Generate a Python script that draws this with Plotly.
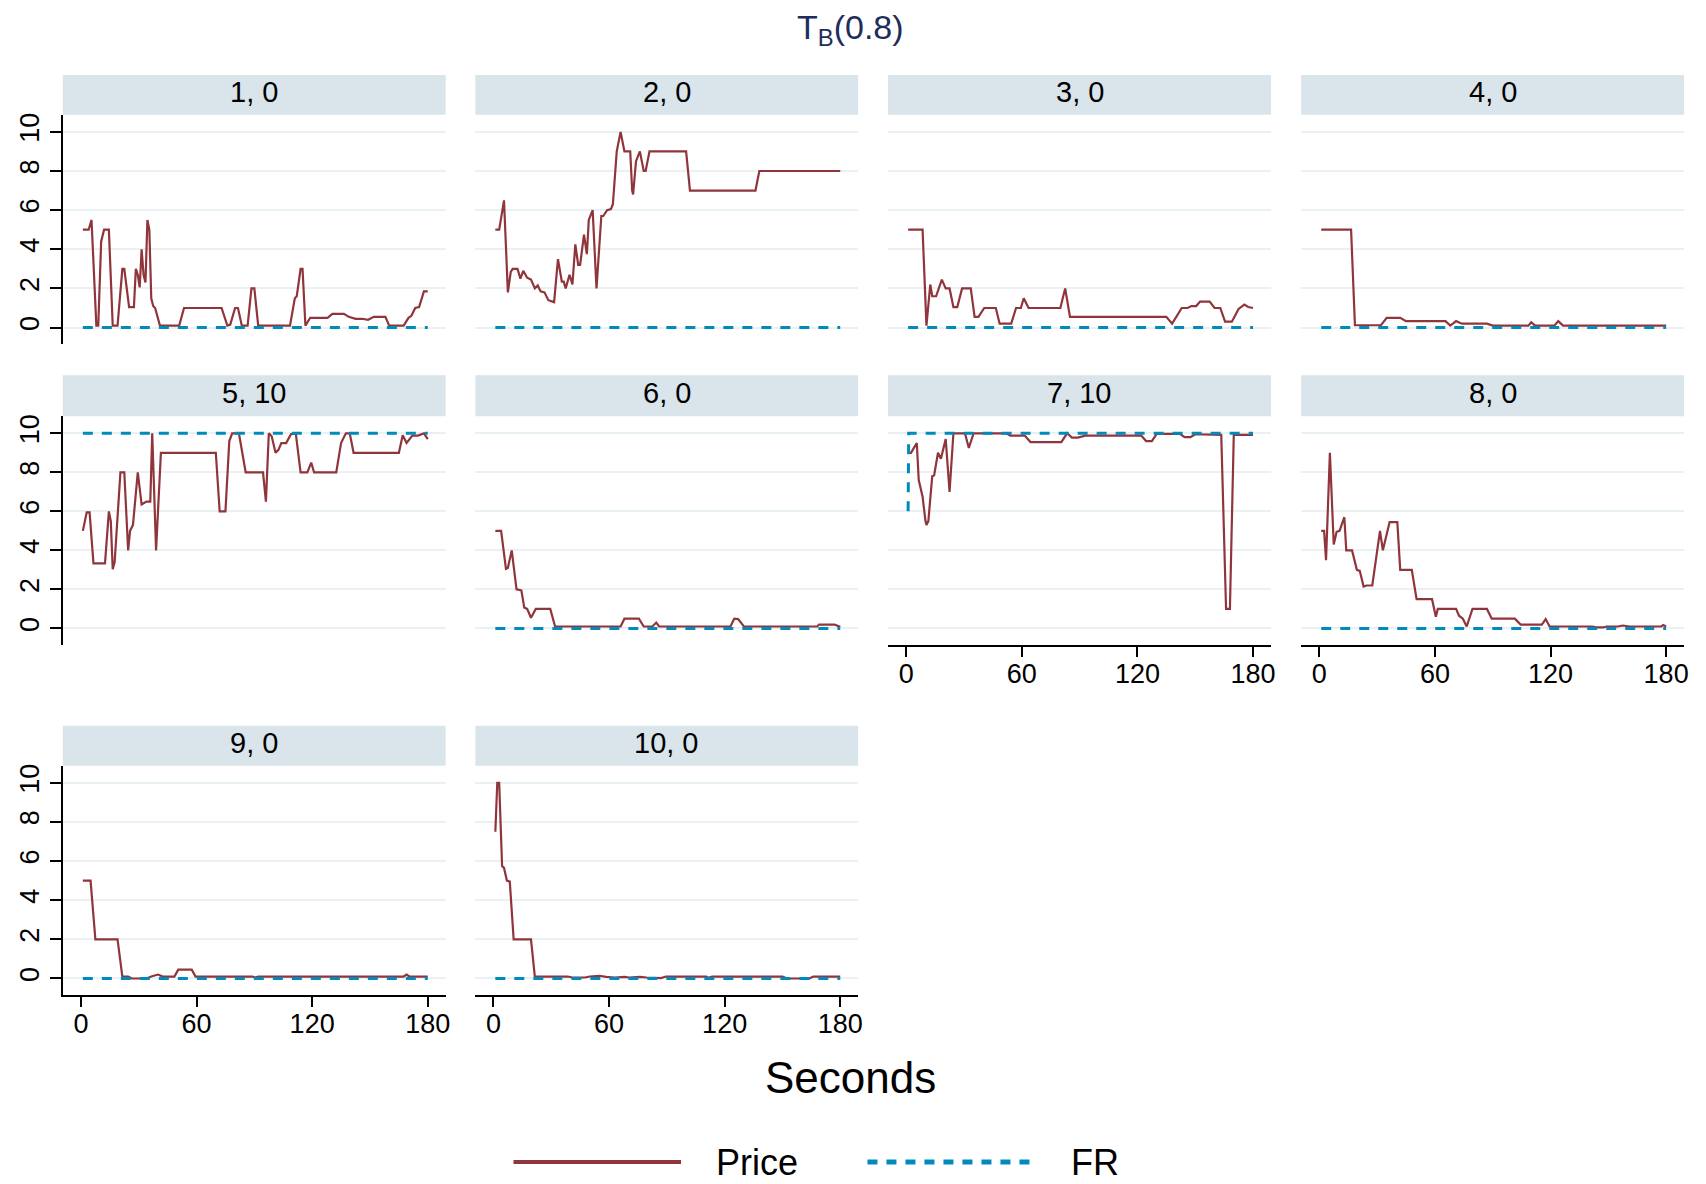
import plotly.graph_objects as go

# ---- data: price path per session (seconds, price), plus the FR level ----
session_labels = ["1, 0", "2, 0", "3, 0", "4, 0", "5, 10", "6, 0", "7, 10", "8, 0", "9, 0", "10, 0"]

s1_t = [1, 4, 5.5, 8, 9, 10.5, 12, 14.5, 16.5, 19, 21.5, 22.5, 25, 27.5, 28.5, 29.5, 30.5, 31.5, 32.5, 33.5,
        34.5, 35.5, 36.5, 37.5, 38.5, 41, 51, 53.5, 73, 76, 77.5, 80, 81.5, 83.5, 86.5, 88.5, 90, 92, 108.5,
        111, 112, 114, 115, 116.5, 119, 128, 130.5, 136.5, 139, 142.5, 146, 149, 152, 158, 160, 167.5, 170,
        171.5, 173.5, 175.5, 178, 180]
s1_price = [5.0, 5.0, 5.5, 0.1, 0.1, 4.4, 5.0, 5.0, 0.1, 0.1, 3.0, 3.0, 1.05, 1.05, 3.0, 2.7, 2.05, 4.0, 2.7, 2.3,
            5.5, 5.0, 1.5, 1.1, 1.0, 0.1, 0.1, 1.0, 1.0, 0.1, 0.15, 1.0, 1.0, 0.1, 0.1, 2.0, 2.0, 0.1, 0.1,
            1.5, 1.6, 3.0, 3.0, 0.1, 0.5, 0.5, 0.7, 0.7, 0.55, 0.45, 0.45, 0.4, 0.55, 0.55, 0.1, 0.1, 0.5,
            0.6, 1.0, 1.05, 1.85, 1.85]

s2_t = [1, 3, 5.5, 7.5, 9, 10, 12.5, 14, 15.5, 17.5, 19.5, 21.5, 23, 24.5, 26.5, 28.5, 31.5, 33.5, 35.5, 36.5,
        37.5, 39.5, 41, 42.5, 44, 45, 47, 48.5, 49.5, 51.5, 53.5, 56, 57, 59, 61, 62, 64, 66, 68, 71, 72,
        72.5, 74, 76, 78, 79, 81, 100, 102, 136, 138, 180]
s2_price = [5.0, 5.0, 6.5, 1.8, 2.85, 3.0, 3.0, 2.5, 2.9, 2.55, 2.45, 2.0, 2.15, 1.85, 1.8, 1.4, 1.3, 3.5, 2.35, 2.35,
            2.0, 2.7, 2.2, 4.25, 3.2, 3.2, 4.75, 3.75, 5.5, 6.0, 2.0, 5.7, 5.7, 6.0, 6.05, 6.3, 9.0, 10.0, 9.0, 9.0, 7.0,
            6.8, 8.5, 9.0, 8.0, 8.0, 9.0, 9.0, 7.0, 7.0, 8.0, 8.0]

s3_t = [1, 8.5, 10.5, 12.5, 13.5, 15.5, 18.5, 20.5, 22.5, 24.5, 26.5, 29, 33.5, 35.5, 37.5, 40.5, 46.5, 48.5, 54.5,
        57, 59.5, 61, 63.5, 80, 82.5, 85, 135, 138, 143, 146, 148, 150.5, 152.5, 157.5, 160, 163, 165.5, 169,
        172.5, 175.5, 177.5, 180]
s3_price = [5.0, 5.0, 0.1, 2.2, 1.6, 1.6, 2.45, 2.0, 2.0, 1.05, 1.05, 2.0, 2.0, 0.55, 0.55, 1.0, 1.0, 0.2, 0.2,
            1.0, 1.0, 1.5, 1.0, 1.0, 2.0, 0.55, 0.55, 0.2, 1.0, 1.0, 1.1, 1.1, 1.33, 1.33, 1.0, 1.0, 0.3, 0.3,
            0.95, 1.17, 1.05, 1.0]

s4_t = [1, 16.5, 18.5, 32, 35, 42, 45, 65.5, 68, 71, 74, 87, 90, 108.5, 110, 112, 122, 124, 126.5, 180]
s4_price = [5.0, 5.0, 0.12, 0.12, 0.5, 0.5, 0.33, 0.33, 0.1, 0.33, 0.2, 0.2, 0.1, 0.1, 0.27, 0.1, 0.1, 0.33, 0.1, 0.1]

s5_t = [1, 3, 4.5, 6.5, 12.5, 14.5, 15.5, 16.5, 17.5, 20.5, 22.5, 24.5, 25.5, 27, 29.5, 31.5, 34, 36, 37, 39,
        41.5, 70, 72, 75, 77, 78.5, 82, 85.5, 94.5, 96, 97.5, 99, 101, 102.5, 104, 106.5, 109, 111.5, 114,
        117.5, 119.5, 121, 132.5, 135, 137.5, 139.5, 141.5, 165, 167, 169, 172, 175, 178, 180]
s5_price = [5.0, 5.95, 5.95, 3.33, 3.33, 6.0, 5.5, 3.03, 3.4, 8.0, 8.0, 4.0, 5.0, 5.3, 8.0, 6.35, 6.5, 6.5, 10.0, 4.0,
            9.0, 9.0, 6.0, 6.0, 9.6, 10.0, 10.0, 8.0, 8.0, 6.5, 10.0, 9.85, 9.0, 9.15, 9.5, 9.5, 9.95, 10.0, 8.0,
            8.0, 8.5, 8.0, 8.0, 9.5, 10.0, 10.0, 9.0, 9.0, 9.9, 9.5, 9.88, 9.88, 10.0, 9.7]

s6_t = [1, 4, 6.5, 7.5, 9.5, 12, 14.5, 16, 17.5, 19.5, 22, 29.5, 32, 66, 68, 75.5, 78, 82.5, 84.5, 86, 123, 125,
        127, 130, 168, 169, 177, 180]
s6_price = [5.0, 5.0, 3.05, 3.1, 4.0, 2.0, 1.95, 1.07, 1.0, 0.55, 1.0, 1.0, 0.1, 0.1, 0.5, 0.5, 0.1, 0.1, 0.3, 0.1,
            0.1, 0.5, 0.48, 0.1, 0.1, 0.2, 0.2, 0.08]

s7_t = [1, 2.5, 4, 5.5, 6.5, 8, 8.5, 10, 10.5, 11.5, 13.5, 14.5, 16.5, 18, 20.5, 22.5, 24.5, 30.5, 32.5, 35, 52,
        54, 61.5, 64.5, 80.5, 83.5, 86, 89, 93, 122, 124.5, 127.5, 130, 142, 144.5, 147.5, 150, 163.5, 166,
        168, 170, 180]
s7_price = [9.0, 9.0, 9.25, 9.5, 7.6, 6.85, 6.75, 5.5, 5.3, 5.5, 7.8, 7.85, 9.0, 8.7, 9.7, 7.0, 10.0, 10.0, 9.25,
            10.0, 10.0, 9.88, 9.88, 9.55, 9.55, 10.0, 9.78, 9.78, 9.88, 9.88, 9.6, 9.6, 9.97, 9.97, 9.8, 9.8,
            9.95, 9.92, 1.0, 1.0, 9.92, 9.92]

s8_t = [1, 2.5, 3.5, 5.5, 7.5, 9, 10.5, 13, 14, 17, 19.5, 21, 23, 24.5, 27.5, 31.5, 33, 36.5, 40.5, 42, 48, 50.5,
        58.5, 60.5, 61.5, 71, 72.5, 74.5, 76.5, 79.5, 87, 89.5, 101.5, 104.5, 115.5, 117.5, 119.5, 141.5,
        144, 147.5, 149, 155, 157.5, 161, 177.5, 178.5, 180]
s8_price = [5.0, 5.0, 3.5, 9.0, 4.3, 4.95, 5.0, 5.7, 4.0, 4.0, 3.0, 2.95, 2.15, 2.2, 2.2, 5.0, 4.0, 5.45, 5.45, 3.0,
            3.0, 1.5, 1.5, 0.6, 1.0, 1.0, 0.65, 0.5, 0.1, 1.0, 1.0, 0.5, 0.5, 0.2, 0.2, 0.48, 0.1, 0.1, 0.05,
            0.05, 0.1, 0.1, 0.15, 0.1, 0.1, 0.17, 0.1]

s9_t = [1, 5, 7.5, 19, 21.5, 24.5, 26.5, 34, 36.5, 40, 42.5, 48.5, 50.5, 57.5, 59.5, 89, 90.5, 92, 167.5, 169,
        170.5, 180]
s9_price = [5.0, 5.0, 2.0, 2.0, 0.1, 0.1, 0.0, 0.0, 0.1, 0.2, 0.1, 0.1, 0.45, 0.45, 0.1, 0.1, 0.05, 0.1, 0.1, 0.2,
            0.1, 0.1]

s10_t = [1, 2, 3, 4.5, 5.5, 7, 8.5, 10.5, 19.5, 21.5, 38.5, 41, 47.5, 50, 55, 58.5, 63, 68, 70.5, 76, 79.5, 87,
         89.5, 110.5, 111.5, 113.5, 150, 152.5, 164, 166, 180]
s10_price = [7.5, 10.0, 10.0, 5.75, 5.65, 5.0, 4.95, 2.0, 2.0, 0.1, 0.1, 0.05, 0.05, 0.1, 0.14, 0.08, 0.05, 0.08,
             0.05, 0.08, 0.05, 0.02, 0.1, 0.1, 0.03, 0.1, 0.1, 0.0, 0.0, 0.1, 0.1]

fr_t = [1, 180]
fr_zero = [0, 0]
fr_ten = [10, 10]
fr7_t = [1, 1.3, 180]
fr7_values = [6, 10, 10]

x_ticks = [0, 60, 120, 180]
y_ticks = [0, 2, 4, 6, 8, 10]

price_series = [(s1_t, s1_price), (s2_t, s2_price), (s3_t, s3_price), (s4_t, s4_price), (s5_t, s5_price),
                (s6_t, s6_price), (s7_t, s7_price), (s8_t, s8_price), (s9_t, s9_price), (s10_t, s10_price)]
fr_series = [(fr_t, fr_zero), (fr_t, fr_zero), (fr_t, fr_zero), (fr_t, fr_zero), (fr_t, fr_ten),
             (fr_t, fr_zero), (fr7_t, fr7_values), (fr_t, fr_zero), (fr_t, fr_zero), (fr_t, fr_zero)]

# ---- styling ----
W, H = 1706, 1184
FONT = "Liberation Sans, Arial, Helvetica, sans-serif"
PRICE_COLOR = "#8f353b"
FR_COLOR = "#008bbc"
STRIP_COLOR = "#d9e5eb"
GRID_COLOR = "#eaf1f3"

col_left = [63, 476.7, 890.7, 1305]
panel_w = 384
strip_top = [73, 374, 725]
strip_bot = [113, 415, 765]
plot_bot = [343, 644.3, 995]

def fx(px):
    return px / W

def fy(py):
    return 1 - py / H

fig = go.Figure()
shapes = []
annotations = []
layout_axes = {}

show_x = {7, 8, 9, 10}
show_y = {1, 5, 9}

for i in range(10):
    n = i + 1
    row, col = divmod(i, 4)
    left = col_left[col]
    sfx = "" if n == 1 else str(n)

    t, p = price_series[i]
    ft, fv = fr_series[i]
    fig.add_trace(go.Scatter(x=t, y=p, mode="lines", name="Price", showlegend=False,
                             line=dict(color=PRICE_COLOR, width=2.2), xaxis="x" + sfx, yaxis="y" + sfx))
    fig.add_trace(go.Scatter(x=ft, y=fv, mode="lines", name="FR", showlegend=False,
                             line=dict(color=FR_COLOR, width=3, dash="10px,9px"),
                             xaxis="x" + sfx, yaxis="y" + sfx))

    bx = n in show_x
    by = n in show_y
    layout_axes["xaxis" + sfx] = dict(
        domain=[fx(left), fx(left + panel_w)], anchor="y" + sfx, range=[-9.4, 189.3],
        showgrid=False, zeroline=False, showline=bx, linecolor="black", linewidth=1.5,
        ticks="outside" if bx else "", ticklen=10, tickwidth=1.5, tickcolor="black",
        tickvals=x_ticks, showticklabels=bx, ticklabelstandoff=-6,
        tickfont=dict(family=FONT, size=27, color="black"),
        fixedrange=True,
    )
    layout_axes["yaxis" + sfx] = dict(
        domain=[fy(plot_bot[row]), fy(strip_bot[row])], anchor="x" + sfx, range=[-0.86, 10.87],
        showgrid=True, gridcolor=GRID_COLOR, gridwidth=2, zeroline=False,
        showline=by, linecolor="black", linewidth=1.5,
        ticks="outside" if by else "", ticklen=11, tickwidth=1.5, tickcolor="black",
        tickvals=y_ticks, showticklabels=by, tickangle=-90, ticklabelstandoff=0,
        tickfont=dict(family=FONT, size=27, color="black"), fixedrange=True,
    )

    # facet header strip
    shapes.append(dict(type="rect", xref="paper", yref="paper",
                       x0=fx(left), x1=fx(left + panel_w), y0=fy(strip_bot[row]), y1=fy(strip_top[row]),
                       fillcolor=STRIP_COLOR, line=dict(width=0), layer="below"))
    annotations.append(dict(text=session_labels[i], xref="paper", yref="paper",
                            x=fx(left + panel_w / 2), y=fy((strip_top[row] + strip_bot[row]) / 2 - 3),
                            xanchor="center", yanchor="middle", showarrow=False,
                            font=dict(family=FONT, size=29, color="black")))

# title and shared axis title
annotations.append(dict(text="T<sub>B</sub>(0.8)", xref="paper", yref="paper", x=0.5, y=fy(28),
                        xanchor="center", yanchor="middle", showarrow=False,
                        font=dict(family=FONT, size=34, color="#1f2d5c")))
annotations.append(dict(text="Seconds", xref="paper", yref="paper", x=0.5, y=fy(1077),
                        xanchor="center", yanchor="middle", showarrow=False,
                        font=dict(family=FONT, size=44, color="black")))

# legend keys
leg_y = 1162
shapes.append(dict(type="line", xref="paper", yref="paper", x0=fx(515), x1=fx(683), y0=fy(leg_y), y1=fy(leg_y),
                   line=dict(color=PRICE_COLOR, width=4)))
shapes.append(dict(type="line", xref="paper", yref="paper", x0=fx(870), x1=fx(1036), y0=fy(leg_y), y1=fy(leg_y),
                   line=dict(color=FR_COLOR, width=5, dash="10px,9px")))
annotations.append(dict(text="Price", xref="paper", yref="paper", x=fx(716), y=fy(leg_y),
                        xanchor="left", yanchor="middle", showarrow=False,
                        font=dict(family=FONT, size=36, color="black")))
annotations.append(dict(text="FR", xref="paper", yref="paper", x=fx(1072), y=fy(leg_y),
                        xanchor="left", yanchor="middle", showarrow=False,
                        font=dict(family=FONT, size=36, color="black")))

fig.update_layout(
    width=W, height=H, margin=dict(l=0, r=0, t=0, b=0),
    paper_bgcolor="white", plot_bgcolor="white",
    showlegend=False, shapes=shapes, annotations=annotations,
    **layout_axes,
)

fig.write_html("out.html", config={"displayModeBar": False})
